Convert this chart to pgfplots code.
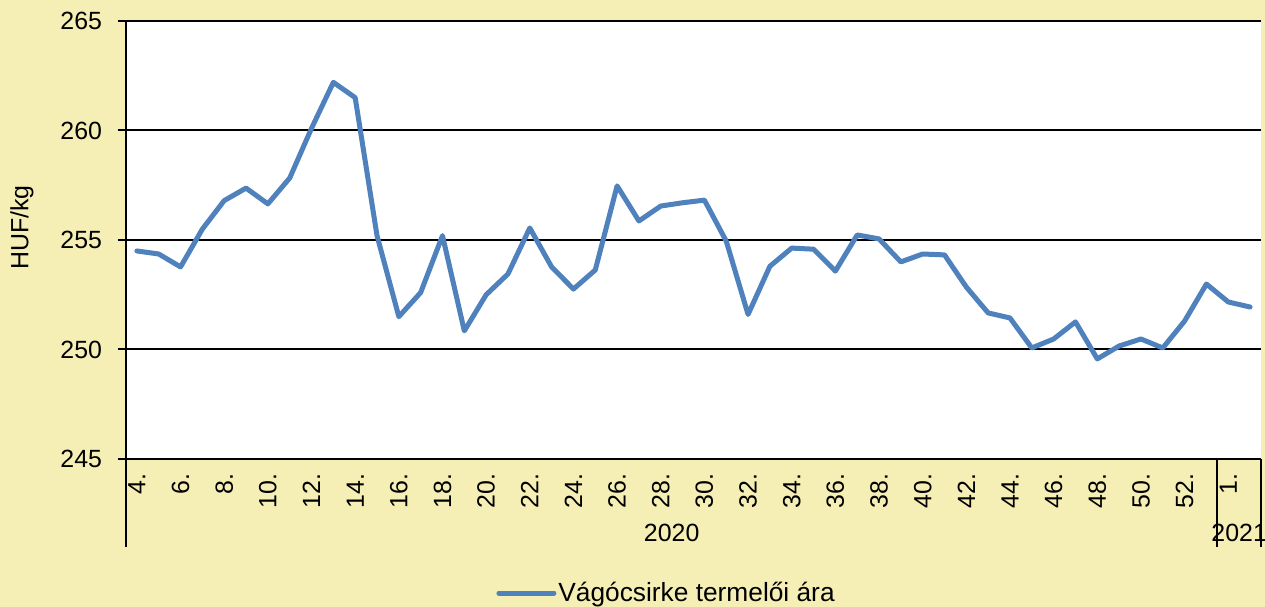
\documentclass[border=0pt]{standalone}
\usepackage{pgfplots}
\pgfplotsset{compat=1.18}
\usepackage{fontspec}
\setmainfont{Liberation Sans}
\definecolor{bgyellow}{RGB}{245,239,181}
\definecolor{serblue}{RGB}{79,129,189}
\newcommand{\cf}{\fontsize{12.5}{15}\selectfont}
\newcommand{\lf}{\fontsize{13.2}{15}\selectfont}
\begin{document}
\begin{tikzpicture}
\useasboundingbox (0bp,0bp) rectangle (632.5bp,303.5bp);
\fill[bgyellow] (0bp,0bp) rectangle (632.5bp,303.5bp);
\begin{axis}[
  at={(63bp,74bp)}, anchor=south west,
  width=567.5bp, height=219bp, scale only axis,
  xmin=-0.5, xmax=51.5, ymin=245, ymax=265,
  axis background/.style={fill=white},
  axis lines*=left,
  axis line style={-, black, line width=1bp},
  ytick={245,250,...,265},
  xtick={0,2,...,50},
  xticklabels={4.,6.,8.,10.,12.,14.,16.,18.,20.,22.,24.,26.,28.,30.,32.,34.,36.,38.,40.,42.,44.,46.,48.,50.,52.,1.},
  xtick style={draw=none},
  ytick style={black, line width=1bp},
  tick align=outside,
  major tick length=4bp,
  ymajorgrids,
  grid style={black, line width=1bp},
  /pgf/number format/assume math mode=true,
  tick label style={font=\cf, black},
  xticklabel style={rotate=90, anchor=east},
  yticklabel style={xshift=-4.5bp},
  ylabel={HUF/kg},
  every axis y label/.style={at={(axis description cs:-0.0916,0.5285)}, rotate=90, anchor=center, font=\cf},
  clip=false,
  legend style={at={(axis description cs:0.326,-0.306)}, anchor=west, draw=none, fill=none, font=\lf, inner sep=0pt, nodes={inner xsep=1bp}},
  legend image code/.code={\draw[#1, line width=2.5bp] (0bp,0bp) -- (27.5bp,0bp);},
]
\addplot[serblue, line width=2.5bp, line join=round, line cap=round] coordinates {
(0,254.5) (1,254.36) (2,253.77) (3,255.5) (4,256.8) (5,257.37) (6,256.65) (7,257.83)
(8,260.1) (9,262.2) (10,261.5) (11,255.2) (12,251.5) (13,252.6) (14,255.2) (15,250.85)
(16,252.5) (17,253.45) (18,255.55) (19,253.77) (20,252.76) (21,253.63) (22,257.47) (23,255.87)
(24,256.55) (25,256.7) (26,256.82) (27,254.95) (28,251.6) (29,253.8) (30,254.63) (31,254.58)
(32,253.58) (33,255.23) (34,255.05) (35,254.0) (36,254.36) (37,254.32) (38,252.85) (39,251.67)
(40,251.44) (41,250.07) (42,250.48) (43,251.26) (44,249.57) (45,250.16) (46,250.48) (47,250.07)
(48,251.3) (49,252.99) (50,252.17) (51,251.94)
};
\addlegendentry{Vágócsirke termelői ára}
\draw[black, line width=1bp] (axis cs:-0.5,245) -- ++(0bp,-44bp);
\draw[black, line width=1bp] (axis cs:49.5,245) -- ++(0bp,-44bp);
\draw[black, line width=1bp] (axis cs:51.5,245) -- ++(0bp,-44bp);
\node[font=\cf, anchor=base, yshift=-41bp] at (axis cs:24.5,245) {2020};
\node[font=\cf, anchor=base, yshift=-41bp] at (axis cs:50.5,245) {2021};
\end{axis}
\end{tikzpicture}
\end{document}
